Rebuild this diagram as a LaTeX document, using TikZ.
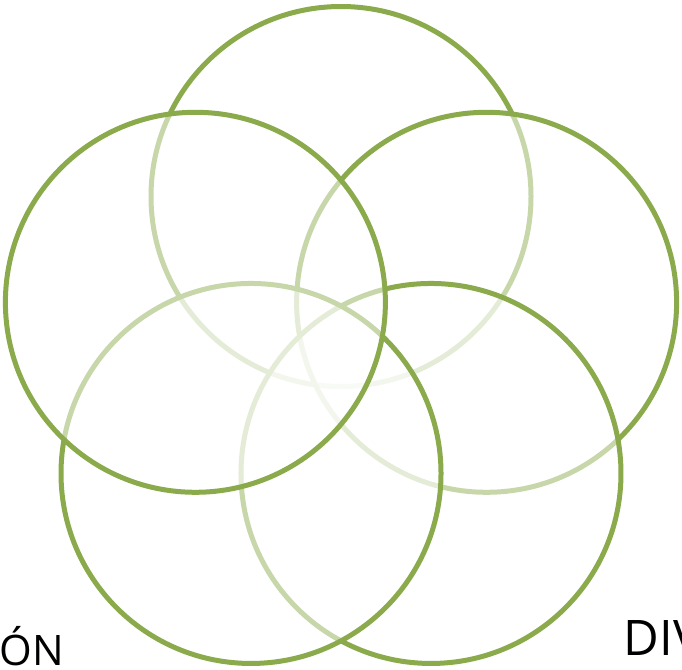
\documentclass[tikz,border=0pt]{standalone}
\usepackage{fontspec}
\setmainfont{Open Sans}
\usetikzlibrary{calc}
\definecolor{leaf}{HTML}{8AAA4C}
\tikzset{
  ring/.style={draw=leaf, line width=5pt, fill=white, fill opacity=0.53},
  label/.style={inner sep=0pt, text=black}
}
\begin{document}
\begin{tikzpicture}[x=1pt,y=-1pt]
\useasboundingbox (0,0) rectangle (682,669);
\clip (0,0) rectangle (682,669);
\coordinate (O) at (341,349.6);
\def\R{153.1}
\def\r{190}
% order of stacking: top, upper right, lower right, lower left, upper left
\coordinate (T)  at ($(O)+(0,-\R)$);
\coordinate (UR) at ($(O)+({\R*cos(18)},{-\R*sin(18)})$);
\coordinate (LR) at ($(O)+({\R*cos(54)},{\R*sin(54)})$);
\coordinate (LL) at ($(O)+({-\R*cos(54)},{\R*sin(54)})$);
\coordinate (UL) at ($(O)+({-\R*cos(18)},{-\R*sin(18)})$);
\foreach \c in {T,UR,LR,LL,UL}{
  \path[ring] (\c) circle[radius=\r];
}
\node[label, font=\fontsize{42}{42}\selectfont, anchor=base east] (on) at (64,665) {ÓN};
\node[label, font=\fontsize{49}{49}\selectfont, anchor=base west] (div) at (623.5,655) {DIV};
\end{tikzpicture}
\end{document}
